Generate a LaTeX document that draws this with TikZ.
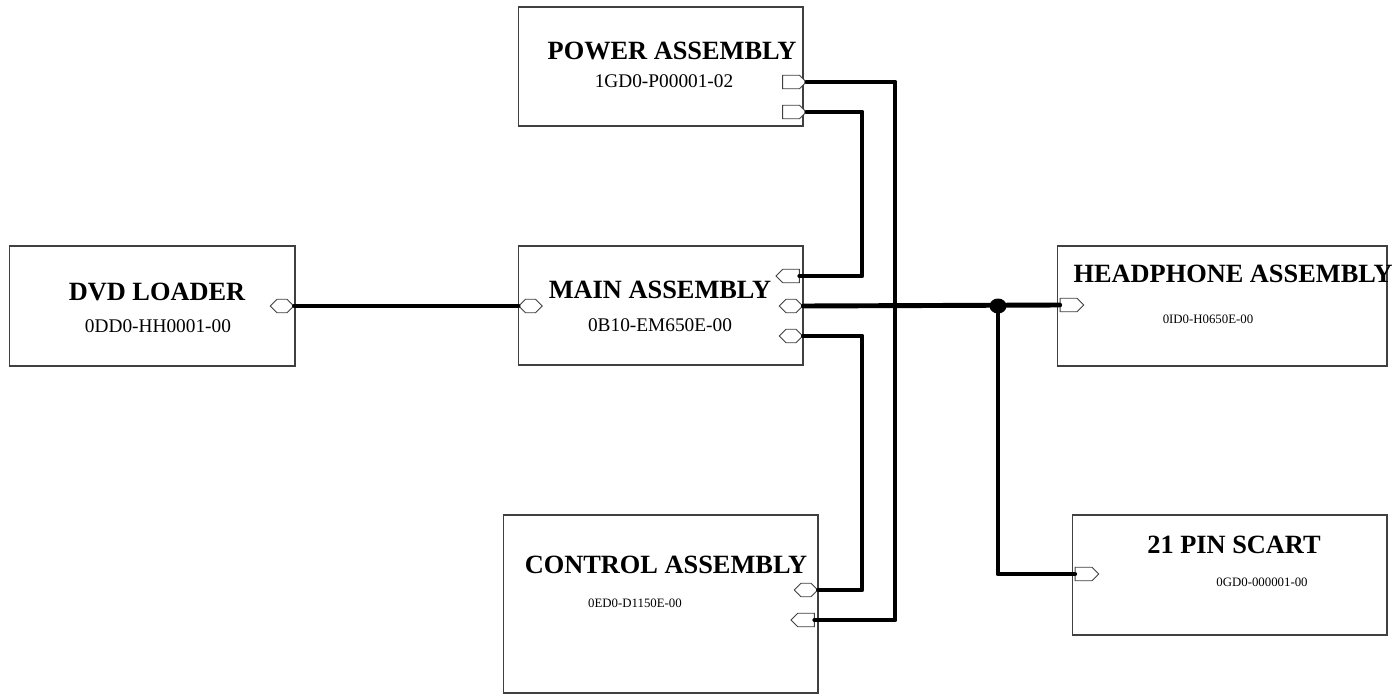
\documentclass[tikz,border=0pt]{standalone}
\usepackage{fontspec}
\setmainfont{Liberation Serif}
\usepackage{tikz}
\usetikzlibrary{shapes.symbols,shapes.geometric,calc}
\tikzset{every picture/.style={line width=0.75pt}}

\begin{document}
\begin{tikzpicture}[x=0.02cm,y=-0.02cm,
    unit/.style={draw=black!75, line width=0.6pt, inner sep=0pt},
    port/.style={signal, draw=black!75, fill=white, line width=0.5pt, inner sep=0pt,
                 minimum width=0.47cm, minimum height=0.27cm},
    wire/.style={line width=2.8pt, line cap=round, line join=round},
    title/.style={anchor=base, font=\fontsize{15}{18}\selectfont\bfseries},
    partno/.style={anchor=base, font=\fontsize{11}{13}\selectfont},
    smallno/.style={anchor=base, font=\fontsize{7.3}{9}\selectfont}]
    \useasboundingbox (0,0) rectangle (1395,696);

    % 组件外框
    \node[unit, minimum width=5.7cm, minimum height=2.38cm] (power) at (660.5,66.5) {};
    \node[unit, minimum width=5.72cm, minimum height=2.4cm] (dvd) at (152,306) {};
    \node[unit, minimum width=5.7cm, minimum height=2.38cm] (main) at (660.5,305.5) {};
    \node[unit, minimum width=6.6cm, minimum height=2.4cm] (hp) at (1222,306) {};
    \node[unit, minimum width=6.3cm, minimum height=2.4cm] (scart) at (1229.5,575) {};
    \node[unit, minimum width=6.3cm, minimum height=3.56cm] (ctrl) at (660.5,604) {};

    % 名称与料号
    \node[title] (powerT) at (672,60) {POWER ASSEMBLY};
    \node[partno] (powerN) at (664,88) {1GD0-P00001-02};
    \node[title] (dvdT) at (157,300) {DVD LOADER};
    \node[partno] (dvdN) at (158,332) {0DD0-HH0001-00};
    \node[title] (mainT) at (660,298) {MAIN ASSEMBLY};
    \node[partno] (mainN) at (660,331) {0B10-EM650E-00};
    \node[title] (hpT) at (1233,282) {HEADPHONE ASSEMBLY};
    \node[smallno] (hpN) at (1208,323) {0ID0-H0650E-00};
    \node[title] (scartT) at (1234,553) {21 PIN SCART};
    \node[smallno] (scartN) at (1262,586) {0GD0-000001-00};
    \node[title] (ctrlT) at (666,573) {CONTROL ASSEMBLY};
    \node[smallno] (ctrlN) at (635,607) {0ED0-D1150E-00};

    % 接口
    \node[port, signal to=east] (pwrA) at (791,82) {};
    \node[port, signal to=east] (pwrB) at (791,112) {};
    \node[port, signal to=east and west] (dvdP) at (282,306) {};
    \node[port, signal to=east and west] (mainL) at (530.5,306) {};
    \node[port, signal to=west] (mainA) at (791,276) {};
    \node[port, signal to=east and west] (mainB) at (791,306) {};
    \node[port, signal to=east and west] (mainC) at (791,336) {};
    \node[port, signal to=east] (hpP) at (1068.5,305) {};
    \node[port, signal to=east] (scP) at (1083.5,574) {};
    \node[port, signal to=east and west] (ctlA) at (806,590) {};
    \node[port, signal to=west] (ctlB) at (806,620) {};

    % 走线
    \coordinate (busL) at (862,0);
    \coordinate (busR) at (895,0);
    \draw[wire] (dvdP.east) -- (mainL.west);
    \draw[wire] (pwrA.east) -- (pwrA.east -| busR) |- (ctlB.east);
    \draw[wire] (pwrB.east) -- (pwrB.east -| busL) |- (mainA.east);
    \draw[wire] (mainC.east) -- (mainC.east -| busL) |- (ctlA.east);
    \draw[wire] (mainB.east) -- (hpP.west);

    % 分支点
    \node[ellipse, fill=black, inner sep=0pt, minimum width=0.34cm, minimum height=0.3cm] (jn) at (998,306) {};
    \draw[wire] (jn.center) |- (scP.west);
\end{tikzpicture}
\end{document}
